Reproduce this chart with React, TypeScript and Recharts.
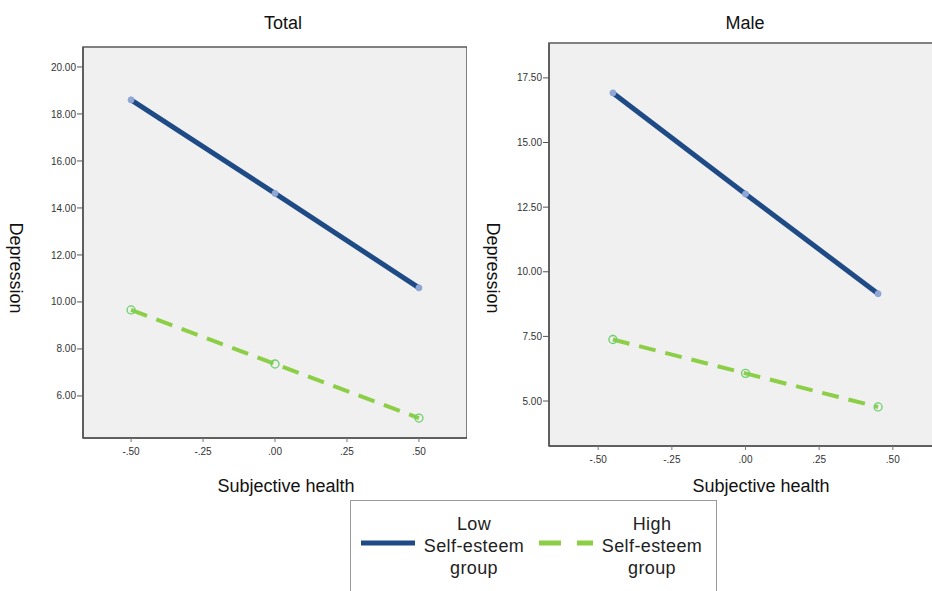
import { LineChart, Line, XAxis, YAxis, ReferenceArea } from 'recharts';

// values
const xTotal = [-0.5, 0, 0.5];
const lowTotal = [18.6, 14.62, 10.6];
const highTotal = [9.66, 7.36, 5.06];

const xMale = [-0.45, 0, 0.45];
const lowMale = [16.92, 13.01, 9.15];
const highMale = [7.38, 6.07, 4.77];

const xTicks = [-0.5, -0.25, 0, 0.25, 0.5];
const yTicksTotal = [6, 8, 10, 12, 14, 16, 18, 20];
const yTicksMale = [5, 7.5, 10, 12.5, 15, 17.5];

const seriesNames = ['Low', 'High'];

const BLUE = '#1e4a85';
const GREEN = '#8ccf47';
const FONT = 'Arial, "Liberation Sans", sans-serif';

const toRows = (xs: number[], low: number[], high: number[]) =>
  xs.map((x, i) => ({ x, low: low[i], high: high[i] }));

function fmtX(v: number) {
  if (v === 0) return '.00';
  const s = Math.abs(v).toFixed(2).replace(/^0/, '');
  return v < 0 ? `-${s}` : s;
}

type PanelProps = {
  left: number;
  width: number;
  top: number;
  yAxisWidth: number;
  xAxisHeight: number;
  data: { x: number; low: number; high: number }[];
  yDomain: [number, number];
  yTicks: number[];
};

function Panel({ left, width, top, yAxisWidth, xAxisHeight, data, yDomain, yTicks }: PanelProps) {
  const xDomain: [number, number] = [-0.667, 0.667];
  return (
    <div style={{ position: 'absolute', left, top: 0 }}>
      <LineChart width={width} height={500} data={data} margin={{ top, right: 0, bottom: 0, left: 0 }}>
        <ReferenceArea
          x1={xDomain[0]}
          x2={xDomain[1]}
          y1={yDomain[0]}
          y2={yDomain[1]}
          fill="#f0f0f0"
          fillOpacity={1}
          stroke="#5a5a5a"
          strokeWidth={1.5}
          ifOverflow="visible"
        />
        <XAxis
          type="number"
          dataKey="x"
          domain={xDomain}
          ticks={xTicks}
          tickFormatter={fmtX}
          height={xAxisHeight}
          tickSize={4}
          tickMargin={6}
          axisLine={{ stroke: '#555', strokeWidth: 1.5 }}
          tickLine={{ stroke: '#777' }}
          tick={{ fontSize: 10, fill: '#333', fontFamily: FONT }}
        />
        <YAxis
          type="number"
          domain={yDomain}
          ticks={yTicks}
          tickFormatter={(v: number) => v.toFixed(2)}
          width={yAxisWidth}
          tickSize={6}
          tickMargin={1}
          axisLine={{ stroke: '#555', strokeWidth: 1.5 }}
          tickLine={{ stroke: '#555' }}
          tick={{ fontSize: 10, fill: '#333', fontFamily: FONT }}
        />
        <Line
          dataKey="low"
          name={seriesNames[0]}
          stroke={BLUE}
          strokeWidth={5}
          dot={{ r: 3, fill: '#8fa6d6', stroke: '#8fa6d6', strokeWidth: 1 }}
          isAnimationActive={false}
        />
        <Line
          dataKey="high"
          name={seriesNames[1]}
          stroke={GREEN}
          strokeWidth={4}
          strokeDasharray="17 10"
          dot={{ r: 4, fill: 'none', stroke: '#6bcf6b', strokeWidth: 1.3, strokeDasharray: 'none' }}
          isAnimationActive={false}
        />
      </LineChart>
    </div>
  );
}

const textStyle = { position: 'absolute' as const, fontFamily: FONT, fontSize: 18, color: '#111', whiteSpace: 'nowrap' as const };

function Centered({ x, y, children, rotate }: { x: number; y: number; children: string; rotate?: boolean }) {
  return (
    <div
      style={{
        ...textStyle,
        left: x,
        top: y,
        transform: `translate(-50%, -50%)${rotate ? ' rotate(90deg)' : ''}`,
      }}
    >
      {children}
    </div>
  );
}

function LegendBox() {
  const lines = (cx: number, word: string) =>
    [word, 'Self-esteem', 'group'].map((t, i) => (
      <text
        key={t}
        x={cx}
        y={30 + i * 22}
        textAnchor="middle"
        fontSize={18}
        letterSpacing={0.4}
        fill="#222"
        fontFamily={FONT}
      >
        {t}
      </text>
    ));
  return (
    <svg width={368} height={100} style={{ position: 'absolute', left: 350, top: 500 }}>
      <rect x={0.5} y={0.5} width={366} height={120} fill="#fff" stroke="#9a9a9a" />
      <line x1={11} x2={65} y1={43} y2={43} stroke={BLUE} strokeWidth={5} />
      {lines(124, 'Low')}
      <line x1={189} x2={243} y1={43} y2={43} stroke={GREEN} strokeWidth={5} strokeDasharray="22 16" />
      {lines(302, 'High')}
    </svg>
  );
}

export default function App() {
  return (
    <div style={{ position: 'absolute', left: 0, top: 0, width: 932, height: 591, overflow: 'hidden', background: '#fff' }}>
      <Panel
        left={0}
        width={467}
        top={47}
        yAxisWidth={83}
        xAxisHeight={62}
        data={toRows(xTotal, lowTotal, highTotal)}
        yDomain={[4.21, 20.85]}
        yTicks={yTicksTotal}
      />
      <Panel
        left={470}
        width={472}
        top={43}
        yAxisWidth={79}
        xAxisHeight={54}
        data={toRows(xMale, lowMale, highMale)}
        yDomain={[3.26, 18.85]}
        yTicks={yTicksMale}
      />
      <Centered x={283} y={23}>Total</Centered>
      <Centered x={745} y={23}>Male</Centered>
      <Centered x={15} y={268} rotate>Depression</Centered>
      <Centered x={492} y={268} rotate>Depression</Centered>
      <Centered x={286} y={486}>Subjective health</Centered>
      <Centered x={761} y={486}>Subjective health</Centered>
      <LegendBox />
    </div>
  );
}
